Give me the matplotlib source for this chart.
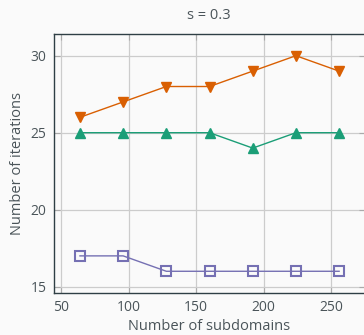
import matplotlib
matplotlib.use("Agg")
import matplotlib.pyplot as plt

subdomains = [64, 96, 128, 160, 192, 224, 256]
iters_orange = [26, 27, 28, 28, 29, 30, 29]
iters_green = [25, 25, 25, 25, 24, 25, 25]
iters_purple = [17, 17, 16, 16, 16, 16, 16]
xticks = [50, 100, 150, 200, 250]
yticks = [15, 20, 25, 30]

plt.rcParams['font.family'] = ['Open Sans', 'DejaVu Sans']
txt = '#4a5459'
bg = '#fafafa'

fig = plt.figure(figsize=(3.64, 3.35), dpi=100, facecolor=bg)
ax = fig.add_axes([0.147, 0.1254, 0.8558, 0.7731], facecolor=bg)

ax.plot(subdomains, iters_orange, color='#d95f02', lw=1.0, marker='v', ms=6.5, zorder=3)
ax.plot(subdomains, iters_green, color='#1b9e77', lw=1.0, marker='^', ms=6.5, zorder=3)
ax.plot(subdomains, iters_purple, color='#7570b3', lw=1.0, marker='s', ms=7,
        mfc='none', mew=1.5, zorder=3)

ax.set_xlim(44.4, 275.2)
ax.set_ylim(14.59, 31.41)
ax.set_xticks(xticks)
ax.set_yticks(yticks)
ax.grid(True, color='#cccccc', lw=0.9)
ax.set_axisbelow(True)
ax.tick_params(direction='in', top=True, right=True, length=4, color='#aaaaaa',
               labelsize=10, labelcolor=txt, pad=5)
for s in ax.spines.values():
    s.set_color('#2f3f45')
    s.set_linewidth(1.0)

ax.set_xlabel('Number of subdomains', fontsize=10.5, color=txt, labelpad=3)
ax.set_ylabel('Number of iterations', fontsize=10.5, color=txt, labelpad=4)
ax.set_title('s = 0.3', fontsize=10.5, color=txt, pad=11)

fig.savefig('out.png', dpi=100, facecolor=bg)
